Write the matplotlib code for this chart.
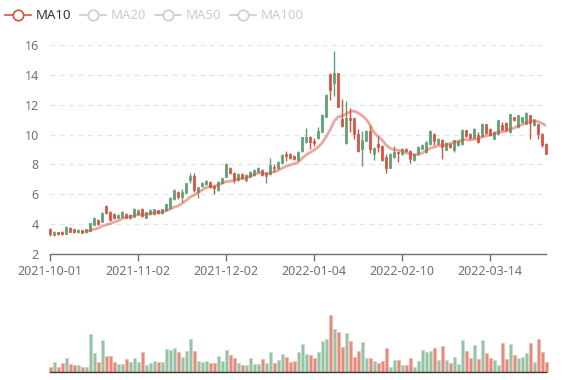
import matplotlib
matplotlib.use("Agg")
import matplotlib.pyplot as plt
import numpy as np
import pandas as pd
from matplotlib.lines import Line2D

plt.rcParams['font.family'] = ['Noto Sans', 'DejaVu Sans']

# ---------------- data ----------------
holidays = ["2022-01-03", "2022-01-31", "2022-02-01", "2022-02-02", "2022-02-03", "2022-02-04"]
dates = [d.strftime("%Y-%m-%d") for d in pd.bdate_range("2021-10-01", "2022-04-01")
         if d.strftime("%Y-%m-%d") not in holidays]

open_ = [3.66, 3.28, 3.46, 3.50, 3.36, 3.77, 3.66, 3.46, 3.59, 3.46,
         3.57, 3.95, 4.28, 4.17, 5.24, 4.79, 4.66, 4.44, 4.50, 4.68,
         4.39, 4.50, 4.66, 5.00, 4.44, 4.66, 4.66, 4.93, 4.73, 4.93,
         5.05, 5.69, 6.18, 5.80, 6.11, 6.96, 7.23, 6.18, 6.56, 6.69,
         6.85, 6.56, 6.29, 6.78, 7.18, 7.74, 7.41, 6.96, 7.36, 6.96,
         7.18, 7.29, 7.52, 7.63, 7.23, 7.36, 7.83, 7.76, 8.07, 8.68,
         8.68, 8.57, 8.28, 8.90, 9.53, 9.84, 9.57, 9.80, 10.20, 11.20,
         14.06, 13.48, 14.10, 11.02, 9.41, 11.11, 11.09, 10.02, 9.01, 9.60,
         10.24, 8.68, 9.35, 9.24, 8.52, 7.79, 8.48, 8.83, 8.70, 9.06,
         8.92, 8.30, 8.75, 9.05, 8.83, 9.34, 10.06, 9.39, 9.66, 8.99,
         9.39, 8.94, 9.28, 9.39, 10.28, 10.06, 9.79, 9.95, 9.88, 10.68,
         10.39, 9.72, 10.01, 10.62, 10.77, 10.17, 11.17, 10.50, 10.84, 10.73,
         11.29, 10.62, 10.68, 10.06, 9.39]
close = [3.32, 3.50, 3.34, 3.36, 3.79, 3.50, 3.46, 3.61, 3.43, 3.66,
         4.06, 4.39, 4.00, 4.73, 4.73, 4.28, 4.39, 4.62, 4.79, 4.44,
         4.62, 5.00, 4.95, 4.55, 4.79, 4.95, 5.00, 4.73, 5.00, 5.33,
         5.75, 6.29, 5.80, 6.18, 6.74, 7.23, 6.29, 6.47, 6.78, 6.92,
         6.47, 6.40, 6.85, 7.07, 8.03, 7.41, 6.96, 7.36, 7.07, 7.29,
         7.52, 7.63, 7.74, 7.29, 7.45, 7.97, 7.76, 8.19, 8.63, 8.59,
         8.41, 8.34, 8.84, 9.82, 9.84, 9.53, 9.42, 10.24, 11.31, 12.65,
         12.99, 14.10, 11.87, 10.58, 11.09, 10.98, 10.02, 8.90, 9.64, 10.24,
         9.01, 9.12, 9.19, 8.30, 7.79, 8.70, 8.83, 8.79, 9.06, 8.90,
         8.37, 8.68, 9.15, 9.32, 9.50, 10.24, 9.57, 9.72, 9.17, 9.43,
         9.17, 9.61, 9.57, 10.33, 9.88, 9.77, 10.39, 9.50, 10.73, 10.10,
         9.95, 10.17, 10.95, 10.33, 10.28, 11.35, 10.95, 11.29, 11.17, 11.44,
         10.77, 11.00, 10.06, 9.28, 8.72]
low = [3.23, 3.22, 3.30, 3.30, 3.32, 3.45, 3.42, 3.42, 3.40, 3.44,
       3.55, 3.92, 3.95, 4.12, 4.70, 4.22, 4.35, 4.40, 4.46, 4.40,
       4.35, 4.46, 4.62, 4.50, 4.40, 4.62, 4.60, 4.68, 4.70, 4.90,
       5.00, 5.65, 5.67, 5.51, 6.08, 6.74, 6.18, 5.73, 6.52, 6.64,
       6.42, 6.00, 6.25, 6.74, 7.14, 7.36, 6.74, 6.92, 7.02, 6.80,
       7.14, 7.25, 7.48, 7.25, 6.74, 7.32, 7.52, 7.72, 8.03, 8.20,
       8.36, 8.30, 8.24, 8.86, 9.42, 9.00, 9.25, 9.68, 10.16, 11.16,
       12.31, 12.60, 11.85, 10.54, 9.38, 10.20, 9.68, 8.86, 7.90, 9.56,
       8.75, 8.30, 8.80, 8.26, 7.40, 7.75, 8.44, 8.19, 8.66, 8.86,
       8.10, 8.26, 8.62, 9.00, 8.79, 9.30, 9.30, 9.35, 8.38, 8.95,
       9.13, 8.80, 9.24, 9.28, 9.84, 9.73, 9.75, 9.46, 9.84, 10.06,
       9.91, 9.68, 9.97, 10.29, 10.24, 10.13, 10.91, 10.46, 10.80, 10.69,
       9.72, 10.58, 9.72, 9.20, 8.68]
high = [3.72, 3.55, 3.50, 3.55, 3.85, 3.82, 3.70, 3.65, 3.63, 3.70,
        4.10, 4.50, 4.35, 4.80, 5.30, 4.90, 4.72, 4.68, 4.85, 4.74,
        4.66, 5.05, 5.00, 5.05, 4.84, 5.00, 5.04, 4.98, 5.04, 5.38,
        5.80, 6.36, 6.22, 6.33, 6.78, 7.40, 7.45, 6.52, 6.85, 6.98,
        6.90, 6.60, 6.90, 7.12, 8.08, 7.80, 7.46, 7.40, 7.42, 7.34,
        7.58, 7.68, 7.80, 7.68, 7.50, 8.41, 8.05, 8.24, 8.68, 8.90,
        8.74, 8.62, 8.90, 9.86, 10.42, 9.88, 9.74, 10.48, 11.36, 12.70,
        14.10, 15.60, 14.14, 12.35, 12.24, 11.76, 11.12, 10.35, 10.26, 10.28,
        10.62, 9.16, 9.89, 9.30, 8.68, 8.74, 9.24, 8.87, 9.10, 9.10,
        8.96, 8.72, 9.22, 9.36, 9.55, 10.28, 10.10, 9.78, 9.70, 9.48,
        9.43, 9.66, 9.62, 10.40, 10.32, 10.10, 10.44, 10.17, 10.78, 10.72,
        10.43, 10.22, 11.00, 10.84, 10.81, 11.40, 11.21, 11.33, 11.21, 11.50,
        11.33, 11.04, 10.72, 10.10, 9.43]
volume = [16, 30, 15, 27, 42, 24, 20, 21, 15, 16,
          114, 57, 30, 97, 47, 47, 29, 25, 25, 39,
          31, 43, 31, 59, 22, 27, 33, 29, 31, 69,
          65, 73, 60, 44, 64, 99, 64, 34, 29, 34,
          28, 27, 48, 34, 66, 50, 43, 28, 21, 21,
          42, 24, 24, 39, 26, 60, 27, 37, 54, 45,
          29, 32, 61, 84, 54, 51, 43, 60, 93, 100,
          171, 128, 120, 74, 117, 94, 45, 64, 90, 41,
          42, 34, 26, 33, 71, 16, 36, 36, 21, 20,
          42, 16, 34, 66, 61, 63, 72, 37, 79, 37,
          28, 46, 25, 96, 62, 42, 82, 38, 96, 56,
          41, 36, 22, 87, 38, 85, 50, 43, 46, 56,
          87, 31, 100, 60, 30]
y_ticks = [2, 4, 6, 8, 10, 12, 14, 16]
legend_items = ["MA10", "MA20", "MA50", "MA100"]
ma_window = 10

# ---------------- styling ----------------
UP = "#5f9f76"
DOWN = "#d8523e"
UP_VOL = "#97c2a5"
DOWN_VOL = "#e68a7c"
AXIS = "#6E7079"
GRID = "#E0E6F1"

W, H = 577, 380
fig = plt.figure(figsize=(W / 100, H / 100), dpi=100)
fig.patch.set_facecolor("white")

n = len(close)
x = np.arange(n)
o = np.array(open_)
c = np.array(close)
lo = np.array(low)
hi = np.array(high)
up = c >= o

ax = fig.add_axes([50 / W, 1 - 254 / H, 496 / W, (254 - 45) / H])
ax.set_xlim(0, n - 1)
ax.set_ylim(2, 16)
ax.set_yticks(y_ticks)
ax.set_yticklabels([str(t) for t in y_ticks])
for t in y_ticks[1:]:
    ax.axhline(t, color=GRID, lw=0.9, ls=(0, (4, 3.5)), zorder=0)

# wicks
ax.vlines(x[up], lo[up], hi[up], color=UP, lw=1.0, zorder=2, clip_on=False)
ax.vlines(x[~up], lo[~up], hi[~up], color=DOWN, lw=1.0, zorder=2, clip_on=False)
# bodies
body_bottom = np.minimum(o, c)
body_h = np.abs(c - o)
ax.bar(x[up], body_h[up], bottom=body_bottom[up], width=0.7, color=UP,
       edgecolor=UP, linewidth=0.5, zorder=3, clip_on=False)
ax.bar(x[~up], body_h[~up], bottom=body_bottom[~up], width=0.7, color=DOWN,
       edgecolor=DOWN, linewidth=0.5, zorder=3, clip_on=False)

# MA10
ma10 = pd.Series(c).rolling(ma_window).mean()
ax.plot(x, ma10, color=DOWN, alpha=0.5, lw=2.0, zorder=4, solid_capstyle="round")

tick_idx = list(range(0, n, 22))
ax.set_xticks(tick_idx)
ax.set_xticklabels([dates[i] for i in tick_idx])
for s in ["left", "right", "top"]:
    ax.spines[s].set_visible(False)
ax.spines["bottom"].set_color(AXIS)
ax.spines["bottom"].set_linewidth(1.0)
ax.tick_params(axis="x", colors=AXIS, length=5, width=1.0, pad=3, labelsize=9)
ax.tick_params(axis="y", length=0, pad=8, labelcolor=AXIS, labelsize=9)

# volume
vax = fig.add_axes([50 / W, 1 - 372 / H, 496 / W, 72 / H])
vax.set_xlim(0, n - 1)
vax.set_ylim(0, 216)
v = np.array(volume)
vax.bar(x[up], v[up], width=0.75, color=UP_VOL, edgecolor="#c2dccb", linewidth=0.5, clip_on=False)
vax.bar(x[~up], v[~up], width=0.75, color=DOWN_VOL, edgecolor="#f2b7ad", linewidth=0.5, clip_on=False)
for s in ["left", "right", "top"]:
    vax.spines[s].set_visible(False)
vax.spines["bottom"].set_color("#3a3a3a")
vax.spines["bottom"].set_linewidth(1.0)
vax.set_xticks([])
vax.set_yticks([])

# legend (pixel overlay)
lax = fig.add_axes([0, 0, 1, 1])
lax.set_xlim(0, W)
lax.set_ylim(H, 0)
lax.axis("off")
leg_x = [5, 80, 155, 230]
for i, (lbl, lx) in enumerate(zip(legend_items, leg_x)):
    col = DOWN if i == 0 else "#cccccc"
    tcol = "#333333" if i == 0 else "#cccccc"
    lax.add_line(Line2D([lx, lx + 26], [15, 15], color=col, lw=1.2))
    lax.plot([lx + 13], [15], marker="o", ms=7.5, mfc="white", mec=col, mew=1.2)
    lax.text(lx + 31, 15.5, lbl, color=tcol, fontsize=9.5, va="center", ha="left")

fig.savefig("out.png", dpi=100)
